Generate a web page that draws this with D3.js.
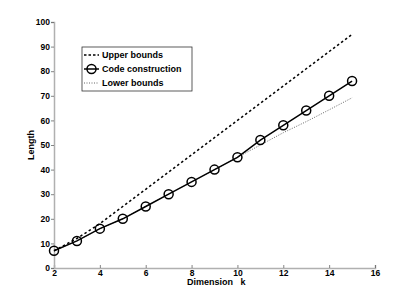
<!DOCTYPE html>
<html><head><meta charset="utf-8">
<script src="https://cdn.jsdelivr.net/npm/d3@7"></script>
<style>body{margin:0;background:#fff}svg{display:block}text{font-family:"Liberation Sans",Arial,sans-serif;font-weight:bold}</style>
</head><body><svg id="c" width="415" height="300"></svg>
<script>
const dims = [2,3,4,5,6,7,8,9,10,11,12,13,14,15];
const upperBounds = [7,12,18,25,32,39,46,53,60,67,74,81,88,95];
const codeConstruction = [7,11,16,20,25,30,35,40,45,52,58,64,70,76];
const lowerBounds = [7,11,16,20,25,30,35,40,45,50,55,59.5,64.3,69.2];
const xTicks = [2,4,6,8,10,12,14,16];
const yTicks = [0,10,20,30,40,50,60,70,80,90,100];
const legendLabels = ["Upper bounds","Code construction","Lower bounds"];

const svg = d3.select("#c");
const x = d3.scaleLinear().domain([2,16]).range([54,375]);
const y = d3.scaleLinear().domain([0,100]).range([268,22]);
const axisCol = "#b0b0b0";

const gx = svg.append("g").attr("transform","translate(0,268)")
  .call(d3.axisBottom(x).tickValues(xTicks).tickSize(-3).tickPadding(2).tickFormat(d3.format("d")));
const gy = svg.append("g").attr("transform","translate(54,0)")
  .call(d3.axisLeft(y).tickValues(yTicks).tickSize(3).tickPadding(1).tickFormat(d3.format("d")));
[gx,gy].forEach(g=>{
  g.select(".domain").attr("stroke",axisCol).attr("stroke-width",1.5);
  g.selectAll(".tick line").attr("stroke","#666").attr("stroke-width",0.8);
  g.selectAll(".tick text").attr("fill","#000").attr("font-size",8.5).attr("font-weight","bold");
});

const line = d3.line().x((d,i)=>x(dims[i])).y(d=>y(d));
svg.append("path").attr("d",line(lowerBounds)).attr("fill","none")
  .attr("stroke","#555").attr("stroke-width",0.9).attr("stroke-dasharray","1,1.5");
svg.append("path").attr("d",line(upperBounds)).attr("fill","none")
  .attr("stroke","#000").attr("stroke-width",1.5).attr("stroke-dasharray","2.5,2.5");
svg.append("path").attr("d",line(codeConstruction)).attr("fill","none")
  .attr("stroke","#000").attr("stroke-width",1.5);
svg.selectAll("circle.pt").data(codeConstruction).join("circle").attr("class","pt")
  .attr("cx",(d,i)=>x(dims[i])).attr("cy",d=>y(d)).attr("r",4.5)
  .attr("fill","none").attr("stroke","#000").attr("stroke-width",1.5);

svg.append("text").attr("x",187).attr("y",285).attr("text-anchor","start")
  .attr("font-size",9).attr("xml:space","preserve").text("Dimension   k");
svg.append("text").attr("transform","translate(34,145) rotate(-90)").attr("text-anchor","middle")
  .attr("font-size",9).text("Length");

// legend
const lg = svg.append("g");
lg.append("rect").attr("x",82).attr("y",47).attr("width",110).attr("height",44)
  .attr("fill","#fff").attr("stroke","#333").attr("stroke-width",0.8);
const rows = [55,69,83];
lg.append("line").attr("x1",84).attr("x2",99).attr("y1",rows[0]).attr("y2",rows[0])
  .attr("stroke","#000").attr("stroke-width",1.5).attr("stroke-dasharray","2.5,2");
lg.append("line").attr("x1",84).attr("x2",99).attr("y1",rows[1]).attr("y2",rows[1])
  .attr("stroke","#000").attr("stroke-width",1.5);
lg.append("circle").attr("cx",91.5).attr("cy",rows[1]).attr("r",4.5).attr("fill","none")
  .attr("stroke","#000").attr("stroke-width",1.5);
lg.append("line").attr("x1",84).attr("x2",99).attr("y1",rows[2]).attr("y2",rows[2])
  .attr("stroke","#555").attr("stroke-width",0.9).attr("stroke-dasharray","1,1.5");
lg.selectAll("text.lt").data(legendLabels).join("text").attr("class","lt")
  .attr("x",102).attr("y",(d,i)=>rows[i]+3.2).attr("font-size",9).text(d=>d);
</script></body></html>
